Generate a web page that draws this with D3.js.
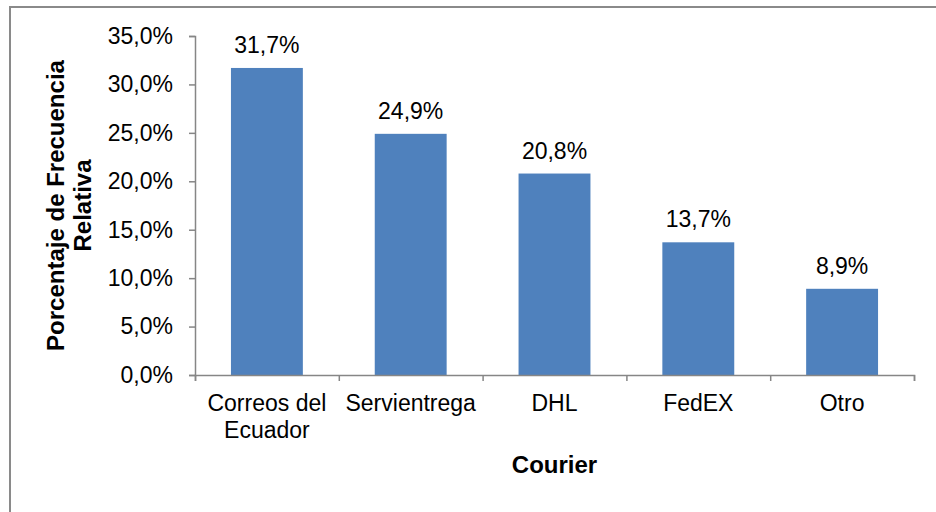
<!DOCTYPE html>
<html>
<head>
<meta charset="utf-8">
<script src="https://cdn.jsdelivr.net/npm/d3@7"></script>
<style>
  body { margin: 0; background: #fff; }
  text { font-family: "Liberation Sans", Arial, sans-serif; fill: #000; }
</style>
</head>
<body>
<div id="chart"></div>
<script>
// the chart data
var categories = [["Correos del", "Ecuador"], ["Servientrega"], ["DHL"], ["FedEX"], ["Otro"]];
var values = [31.7, 24.9, 20.8, 13.7, 8.9];
var yTicks = [0, 5, 10, 15, 20, 25, 30, 35];

var fmt = function(v) { return v.toFixed(1).replace(".", ",") + "%"; };

// Set the dimensions
var W = 936, H = 512;
var margin = {top: 36, left: 195, right: 22, bottom: 137};
var width = W - margin.left - margin.right,
    height = H - margin.top - margin.bottom;

var svg = d3.select("#chart").append("svg")
  .attr("width", W).attr("height", H);

// outer chart border (runs off the window at right/bottom)
svg.append("rect")
  .attr("x", 10).attr("y", 7)
  .attr("width", 960).attr("height", 560)
  .attr("fill", "none")
  .attr("stroke", "#8a8a8a")
  .attr("stroke-width", 2);

var g = svg.append("g")
  .attr("transform", "translate(" + margin.left + "," + margin.top + ")");

// Set the ranges
var x = d3.scaleBand().domain(d3.range(values.length)).range([0, width]).paddingInner(0.5).paddingOuter(0.25);
var y = d3.scaleLinear().domain([0, 35]).range([height, 0]);

// bars
g.selectAll(".bar")
  .data(values)
  .enter().append("rect")
    .attr("class", "bar")
    .attr("x", function(d, i) { return x(i); })
    .attr("y", function(d) { return y(d); })
    .attr("width", x.bandwidth())
    .attr("height", function(d) { return height - y(d); })
    .attr("fill", "#4F81BD");

// value labels
g.selectAll(".val")
  .data(values)
  .enter().append("text")
    .attr("class", "val")
    .attr("x", function(d, i) { return x(i) + x.bandwidth() / 2; })
    .attr("y", function(d) { return y(d) - 15; })
    .attr("text-anchor", "middle")
    .style("font-size", "23px")
    .text(fmt);

// Y axis
var yAxis = g.append("g")
  .call(d3.axisLeft(y).tickValues(yTicks).tickSize(6).tickPadding(16).tickFormat(fmt));
yAxis.select(".domain").attr("stroke", "#868686").attr("stroke-width", 1.5);
yAxis.selectAll(".tick line").attr("stroke", "#868686").attr("stroke-width", 1.5);
yAxis.selectAll(".tick text").style("font-size", "23px").style("font-family", "Liberation Sans, Arial, sans-serif").attr("fill", "#000");

// X axis: boundaries between categories
var xb = d3.scaleLinear().domain([0, values.length]).range([0, width]);
var xAxis = g.append("g")
  .attr("transform", "translate(0," + height + ")")
  .call(d3.axisBottom(xb).tickValues(d3.range(values.length + 1)).tickSize(6).tickFormat(""));
xAxis.select(".domain").attr("stroke", "#868686").attr("stroke-width", 1.5);
xAxis.selectAll(".tick line").attr("stroke", "#868686").attr("stroke-width", 1.5);

// category labels
var cat = g.selectAll(".cat")
  .data(categories)
  .enter().append("text")
    .attr("class", "cat")
    .attr("x", function(d, i) { return x(i) + x.bandwidth() / 2; })
    .attr("y", height + 36)
    .attr("text-anchor", "middle")
    .style("font-size", "23px");
cat.selectAll("tspan")
  .data(function(d) { return d; })
  .enter().append("tspan")
    .attr("x", function() { return this.parentNode.getAttribute("x"); })
    .attr("dy", function(d, i) { return i ? 27 : 0; })
    .text(function(d) { return d; });

// X title
svg.append("text")
  .attr("x", margin.left + width / 2)
  .attr("y", 473)
  .attr("text-anchor", "middle")
  .style("font-size", "24px")
  .style("font-weight", "bold")
  .text("Courier");

// Y title (two lines)
var yt = svg.append("text")
  .attr("transform", "translate(64," + (margin.top + height / 2) + ") rotate(-90)")
  .attr("text-anchor", "middle")
  .style("font-size", "24px")
  .style("font-weight", "bold");
yt.append("tspan").attr("x", 0).attr("y", 0).text("Porcentaje de Frecuencia");
yt.append("tspan").attr("x", 0).attr("y", 27).text("Relativa");
</script>
</body>
</html>
